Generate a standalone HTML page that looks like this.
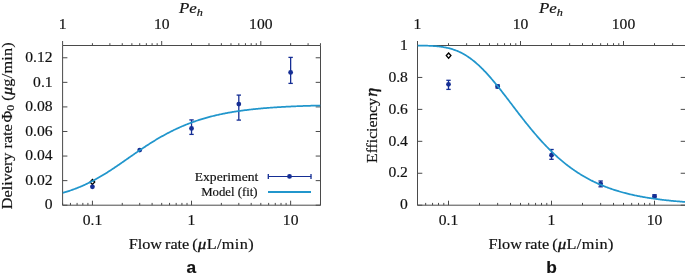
<!DOCTYPE html>
<html><head><meta charset="utf-8"><style>
html,body{margin:0;padding:0;background:#fff;width:685px;height:273px;overflow:hidden}
svg{display:block;will-change:transform}
text{font-family:"Liberation Serif",serif;fill:#111;stroke:#111;stroke-width:0.18px}
.m{stroke-width:0.4px}
.lab{font-family:"Liberation Sans",sans-serif;font-weight:bold}
</style></head><body>
<svg width="685" height="273" viewBox="0 0 685 273">
<defs>
<clipPath id="clipL"><rect x="62.6" y="44.0" width="257.9" height="161.2"/></clipPath>
<clipPath id="clipR"><rect x="417.5" y="44.0" width="268.0" height="161.2"/></clipPath>
</defs>
<rect width="685" height="273" fill="#fff"/>
<path d="M62.60,45.50 H320.50 V205.20 H62.60 Z" fill="none" stroke="#4a4a4a" stroke-width="1"/>
<line x1="62.60" y1="205.20" x2="62.60" y2="202.90" stroke="#4a4a4a" stroke-width="1.0" />
<line x1="70.45" y1="205.20" x2="70.45" y2="202.90" stroke="#4a4a4a" stroke-width="1.0" />
<line x1="77.08" y1="205.20" x2="77.08" y2="202.90" stroke="#4a4a4a" stroke-width="1.0" />
<line x1="82.83" y1="205.20" x2="82.83" y2="202.90" stroke="#4a4a4a" stroke-width="1.0" />
<line x1="87.90" y1="205.20" x2="87.90" y2="202.90" stroke="#4a4a4a" stroke-width="1.0" />
<line x1="92.43" y1="205.20" x2="92.43" y2="200.70" stroke="#4a4a4a" stroke-width="1.0" />
<line x1="122.26" y1="205.20" x2="122.26" y2="202.90" stroke="#4a4a4a" stroke-width="1.0" />
<line x1="139.71" y1="205.20" x2="139.71" y2="202.90" stroke="#4a4a4a" stroke-width="1.0" />
<line x1="152.10" y1="205.20" x2="152.10" y2="202.90" stroke="#4a4a4a" stroke-width="1.0" />
<line x1="161.70" y1="205.20" x2="161.70" y2="202.90" stroke="#4a4a4a" stroke-width="1.0" />
<line x1="169.55" y1="205.20" x2="169.55" y2="202.90" stroke="#4a4a4a" stroke-width="1.0" />
<line x1="176.18" y1="205.20" x2="176.18" y2="202.90" stroke="#4a4a4a" stroke-width="1.0" />
<line x1="181.93" y1="205.20" x2="181.93" y2="202.90" stroke="#4a4a4a" stroke-width="1.0" />
<line x1="187.00" y1="205.20" x2="187.00" y2="202.90" stroke="#4a4a4a" stroke-width="1.0" />
<line x1="191.53" y1="205.20" x2="191.53" y2="200.70" stroke="#4a4a4a" stroke-width="1.0" />
<line x1="221.36" y1="205.20" x2="221.36" y2="202.90" stroke="#4a4a4a" stroke-width="1.0" />
<line x1="238.81" y1="205.20" x2="238.81" y2="202.90" stroke="#4a4a4a" stroke-width="1.0" />
<line x1="251.20" y1="205.20" x2="251.20" y2="202.90" stroke="#4a4a4a" stroke-width="1.0" />
<line x1="260.80" y1="205.20" x2="260.80" y2="202.90" stroke="#4a4a4a" stroke-width="1.0" />
<line x1="268.65" y1="205.20" x2="268.65" y2="202.90" stroke="#4a4a4a" stroke-width="1.0" />
<line x1="275.28" y1="205.20" x2="275.28" y2="202.90" stroke="#4a4a4a" stroke-width="1.0" />
<line x1="281.03" y1="205.20" x2="281.03" y2="202.90" stroke="#4a4a4a" stroke-width="1.0" />
<line x1="286.10" y1="205.20" x2="286.10" y2="202.90" stroke="#4a4a4a" stroke-width="1.0" />
<line x1="290.63" y1="205.20" x2="290.63" y2="200.70" stroke="#4a4a4a" stroke-width="1.0" />
<line x1="320.46" y1="205.20" x2="320.46" y2="202.90" stroke="#4a4a4a" stroke-width="1.0" />
<line x1="62.60" y1="45.50" x2="62.60" y2="41.00" stroke="#4a4a4a" stroke-width="1.0" />
<line x1="92.43" y1="45.50" x2="92.43" y2="43.20" stroke="#4a4a4a" stroke-width="1.0" />
<line x1="109.88" y1="45.50" x2="109.88" y2="43.20" stroke="#4a4a4a" stroke-width="1.0" />
<line x1="122.26" y1="45.50" x2="122.26" y2="43.20" stroke="#4a4a4a" stroke-width="1.0" />
<line x1="131.87" y1="45.50" x2="131.87" y2="43.20" stroke="#4a4a4a" stroke-width="1.0" />
<line x1="139.71" y1="45.50" x2="139.71" y2="43.20" stroke="#4a4a4a" stroke-width="1.0" />
<line x1="146.35" y1="45.50" x2="146.35" y2="43.20" stroke="#4a4a4a" stroke-width="1.0" />
<line x1="152.10" y1="45.50" x2="152.10" y2="43.20" stroke="#4a4a4a" stroke-width="1.0" />
<line x1="157.17" y1="45.50" x2="157.17" y2="43.20" stroke="#4a4a4a" stroke-width="1.0" />
<line x1="161.70" y1="45.50" x2="161.70" y2="41.00" stroke="#4a4a4a" stroke-width="1.0" />
<line x1="191.53" y1="45.50" x2="191.53" y2="43.20" stroke="#4a4a4a" stroke-width="1.0" />
<line x1="208.98" y1="45.50" x2="208.98" y2="43.20" stroke="#4a4a4a" stroke-width="1.0" />
<line x1="221.36" y1="45.50" x2="221.36" y2="43.20" stroke="#4a4a4a" stroke-width="1.0" />
<line x1="230.97" y1="45.50" x2="230.97" y2="43.20" stroke="#4a4a4a" stroke-width="1.0" />
<line x1="238.81" y1="45.50" x2="238.81" y2="43.20" stroke="#4a4a4a" stroke-width="1.0" />
<line x1="245.45" y1="45.50" x2="245.45" y2="43.20" stroke="#4a4a4a" stroke-width="1.0" />
<line x1="251.20" y1="45.50" x2="251.20" y2="43.20" stroke="#4a4a4a" stroke-width="1.0" />
<line x1="256.27" y1="45.50" x2="256.27" y2="43.20" stroke="#4a4a4a" stroke-width="1.0" />
<line x1="260.80" y1="45.50" x2="260.80" y2="41.00" stroke="#4a4a4a" stroke-width="1.0" />
<line x1="290.63" y1="45.50" x2="290.63" y2="43.20" stroke="#4a4a4a" stroke-width="1.0" />
<line x1="308.08" y1="45.50" x2="308.08" y2="43.20" stroke="#4a4a4a" stroke-width="1.0" />
<line x1="320.46" y1="45.50" x2="320.46" y2="43.20" stroke="#4a4a4a" stroke-width="1.0" />
<line x1="62.60" y1="205.20" x2="67.40" y2="205.20" stroke="#4a4a4a" stroke-width="1.0" />
<line x1="320.50" y1="205.20" x2="315.70" y2="205.20" stroke="#4a4a4a" stroke-width="1.0" />
<line x1="62.60" y1="180.63" x2="67.40" y2="180.63" stroke="#4a4a4a" stroke-width="1.0" />
<line x1="320.50" y1="180.63" x2="315.70" y2="180.63" stroke="#4a4a4a" stroke-width="1.0" />
<line x1="62.60" y1="156.06" x2="67.40" y2="156.06" stroke="#4a4a4a" stroke-width="1.0" />
<line x1="320.50" y1="156.06" x2="315.70" y2="156.06" stroke="#4a4a4a" stroke-width="1.0" />
<line x1="62.60" y1="131.49" x2="67.40" y2="131.49" stroke="#4a4a4a" stroke-width="1.0" />
<line x1="320.50" y1="131.49" x2="315.70" y2="131.49" stroke="#4a4a4a" stroke-width="1.0" />
<line x1="62.60" y1="106.92" x2="67.40" y2="106.92" stroke="#4a4a4a" stroke-width="1.0" />
<line x1="320.50" y1="106.92" x2="315.70" y2="106.92" stroke="#4a4a4a" stroke-width="1.0" />
<line x1="62.60" y1="82.35" x2="67.40" y2="82.35" stroke="#4a4a4a" stroke-width="1.0" />
<line x1="320.50" y1="82.35" x2="315.70" y2="82.35" stroke="#4a4a4a" stroke-width="1.0" />
<line x1="62.60" y1="57.78" x2="67.40" y2="57.78" stroke="#4a4a4a" stroke-width="1.0" />
<line x1="320.50" y1="57.78" x2="315.70" y2="57.78" stroke="#4a4a4a" stroke-width="1.0" />
<path d="M92.40,179.40 L94.70,182.00 L92.40,184.60 L90.10,182.00 Z" fill="none" stroke="#000" stroke-width="1.35"/>
<circle cx="92.43" cy="186.80" r="2.4" fill="#152e94"/>
<circle cx="139.71" cy="150.10" r="2.4" fill="#152e94"/>
<line x1="191.53" y1="119.90" x2="191.53" y2="134.40" stroke="#152e94" stroke-width="1.3" />
<line x1="189.33" y1="119.90" x2="193.73" y2="119.90" stroke="#152e94" stroke-width="1.3" />
<line x1="189.33" y1="134.40" x2="193.73" y2="134.40" stroke="#152e94" stroke-width="1.3" />
<circle cx="191.53" cy="128.40" r="2.4" fill="#152e94"/>
<line x1="238.81" y1="95.10" x2="238.81" y2="120.10" stroke="#152e94" stroke-width="1.3" />
<line x1="236.61" y1="95.10" x2="241.01" y2="95.10" stroke="#152e94" stroke-width="1.3" />
<line x1="236.61" y1="120.10" x2="241.01" y2="120.10" stroke="#152e94" stroke-width="1.3" />
<circle cx="238.81" cy="104.10" r="2.4" fill="#152e94"/>
<line x1="290.63" y1="57.40" x2="290.63" y2="83.40" stroke="#152e94" stroke-width="1.3" />
<line x1="288.43" y1="57.40" x2="292.83" y2="57.40" stroke="#152e94" stroke-width="1.3" />
<line x1="288.43" y1="83.40" x2="292.83" y2="83.40" stroke="#152e94" stroke-width="1.3" />
<circle cx="290.63" cy="72.40" r="2.4" fill="#152e94"/>
<path d="M62.60,192.92 L63.46,192.67 L64.32,192.42 L65.18,192.16 L66.04,191.90 L66.90,191.63 L67.76,191.36 L68.62,191.08 L69.48,190.80 L70.34,190.51 L71.20,190.22 L72.06,189.92 L72.91,189.61 L73.77,189.30 L74.63,188.99 L75.49,188.66 L76.35,188.33 L77.21,188.00 L78.07,187.66 L78.93,187.31 L79.79,186.96 L80.65,186.60 L81.51,186.23 L82.37,185.86 L83.23,185.48 L84.09,185.10 L84.95,184.71 L85.81,184.31 L86.67,183.91 L87.53,183.50 L88.39,183.08 L89.25,182.66 L90.11,182.23 L90.97,181.80 L91.82,181.35 L92.68,180.91 L93.54,180.45 L94.40,179.99 L95.26,179.53 L96.12,179.05 L96.98,178.57 L97.84,178.09 L98.70,177.60 L99.56,177.10 L100.42,176.60 L101.28,176.09 L102.14,175.58 L103.00,175.06 L103.86,174.54 L104.72,174.01 L105.58,173.48 L106.44,172.94 L107.30,172.40 L108.16,171.85 L109.02,171.30 L109.88,170.75 L110.73,170.19 L111.59,169.62 L112.45,169.06 L113.31,168.49 L114.17,167.91 L115.03,167.34 L115.89,166.76 L116.75,166.17 L117.61,165.59 L118.47,165.00 L119.33,164.41 L120.19,163.82 L121.05,163.23 L121.91,162.63 L122.77,162.04 L123.63,161.44 L124.49,160.84 L125.35,160.24 L126.21,159.64 L127.07,159.04 L127.93,158.44 L128.79,157.84 L129.64,157.24 L130.50,156.64 L131.36,156.04 L132.22,155.44 L133.08,154.85 L133.94,154.25 L134.80,153.65 L135.66,153.06 L136.52,152.47 L137.38,151.88 L138.24,151.29 L139.10,150.70 L139.96,150.12 L140.82,149.54 L141.68,148.96 L142.54,148.38 L143.40,147.81 L144.26,147.24 L145.12,146.67 L145.98,146.10 L146.84,145.54 L147.70,144.98 L148.55,144.43 L149.41,143.88 L150.27,143.33 L151.13,142.79 L151.99,142.25 L152.85,141.71 L153.71,141.18 L154.57,140.66 L155.43,140.13 L156.29,139.62 L157.15,139.10 L158.01,138.59 L158.87,138.09 L159.73,137.59 L160.59,137.09 L161.45,136.60 L162.31,136.12 L163.17,135.64 L164.03,135.16 L164.89,134.69 L165.75,134.22 L166.61,133.76 L167.46,133.30 L168.32,132.85 L169.18,132.41 L170.04,131.96 L170.90,131.53 L171.76,131.10 L172.62,130.67 L173.48,130.25 L174.34,129.83 L175.20,129.42 L176.06,129.02 L176.92,128.62 L177.78,128.22 L178.64,127.83 L179.50,127.44 L180.36,127.06 L181.22,126.69 L182.08,126.32 L182.94,125.95 L183.80,125.59 L184.66,125.23 L185.52,124.88 L186.37,124.54 L187.23,124.20 L188.09,123.86 L188.95,123.53 L189.81,123.20 L190.67,122.88 L191.53,122.56 L192.39,122.25 L193.25,121.94 L194.11,121.64 L194.97,121.34 L195.83,121.04 L196.69,120.75 L197.55,120.47 L198.41,120.18 L199.27,119.91 L200.13,119.63 L200.99,119.37 L201.85,119.10 L202.71,118.84 L203.57,118.58 L204.43,118.33 L205.28,118.08 L206.14,117.84 L207.00,117.60 L207.86,117.36 L208.72,117.13 L209.58,116.90 L210.44,116.68 L211.30,116.45 L212.16,116.24 L213.02,116.02 L213.88,115.81 L214.74,115.60 L215.60,115.40 L216.46,115.20 L217.32,115.00 L218.18,114.81 L219.04,114.62 L219.90,114.43 L220.76,114.25 L221.62,114.07 L222.48,113.89 L223.34,113.72 L224.19,113.54 L225.05,113.38 L225.91,113.21 L226.77,113.05 L227.63,112.89 L228.49,112.73 L229.35,112.58 L230.21,112.42 L231.07,112.27 L231.93,112.13 L232.79,111.98 L233.65,111.84 L234.51,111.70 L235.37,111.57 L236.23,111.43 L237.09,111.30 L237.95,111.17 L238.81,111.05 L239.67,110.92 L240.53,110.80 L241.39,110.68 L242.25,110.56 L243.10,110.45 L243.96,110.33 L244.82,110.22 L245.68,110.11 L246.54,110.01 L247.40,109.90 L248.26,109.80 L249.12,109.69 L249.98,109.59 L250.84,109.50 L251.70,109.40 L252.56,109.31 L253.42,109.21 L254.28,109.12 L255.14,109.03 L256.00,108.95 L256.86,108.86 L257.72,108.78 L258.58,108.69 L259.44,108.61 L260.30,108.53 L261.16,108.45 L262.01,108.38 L262.87,108.30 L263.73,108.23 L264.59,108.15 L265.45,108.08 L266.31,108.01 L267.17,107.95 L268.03,107.88 L268.89,107.81 L269.75,107.75 L270.61,107.68 L271.47,107.62 L272.33,107.56 L273.19,107.50 L274.05,107.44 L274.91,107.38 L275.77,107.33 L276.63,107.27 L277.49,107.22 L278.35,107.16 L279.21,107.11 L280.07,107.06 L280.92,107.01 L281.78,106.96 L282.64,106.91 L283.50,106.86 L284.36,106.82 L285.22,106.77 L286.08,106.73 L286.94,106.68 L287.80,106.64 L288.66,106.60 L289.52,106.56 L290.38,106.52 L291.24,106.48 L292.10,106.44 L292.96,106.40 L293.82,106.36 L294.68,106.32 L295.54,106.29 L296.40,106.25 L297.26,106.22 L298.12,106.18 L298.98,106.15 L299.84,106.12 L300.69,106.08 L301.55,106.05 L302.41,106.02 L303.27,105.99 L304.13,105.96 L304.99,105.93 L305.85,105.90 L306.71,105.87 L307.57,105.85 L308.43,105.82 L309.29,105.79 L310.15,105.77 L311.01,105.74 L311.87,105.72 L312.73,105.69 L313.59,105.67 L314.45,105.64 L315.31,105.62 L316.17,105.60 L317.03,105.58 L317.89,105.55 L318.75,105.53 L319.60,105.51 L320.46,105.49" fill="none" stroke="#2196cc" stroke-width="1.75" clip-path="url(#clipL)"/>
<path d="M417.50,45.50 H685.50 V205.20 H417.50 Z" fill="none" stroke="#4a4a4a" stroke-width="1"/>
<line x1="417.50" y1="205.20" x2="417.50" y2="202.90" stroke="#4a4a4a" stroke-width="1.0" />
<line x1="425.66" y1="205.20" x2="425.66" y2="202.90" stroke="#4a4a4a" stroke-width="1.0" />
<line x1="432.55" y1="205.20" x2="432.55" y2="202.90" stroke="#4a4a4a" stroke-width="1.0" />
<line x1="438.52" y1="205.20" x2="438.52" y2="202.90" stroke="#4a4a4a" stroke-width="1.0" />
<line x1="443.79" y1="205.20" x2="443.79" y2="202.90" stroke="#4a4a4a" stroke-width="1.0" />
<line x1="448.51" y1="205.20" x2="448.51" y2="200.70" stroke="#4a4a4a" stroke-width="1.0" />
<line x1="479.51" y1="205.20" x2="479.51" y2="202.90" stroke="#4a4a4a" stroke-width="1.0" />
<line x1="497.65" y1="205.20" x2="497.65" y2="202.90" stroke="#4a4a4a" stroke-width="1.0" />
<line x1="510.52" y1="205.20" x2="510.52" y2="202.90" stroke="#4a4a4a" stroke-width="1.0" />
<line x1="520.50" y1="205.20" x2="520.50" y2="202.90" stroke="#4a4a4a" stroke-width="1.0" />
<line x1="528.66" y1="205.20" x2="528.66" y2="202.90" stroke="#4a4a4a" stroke-width="1.0" />
<line x1="535.55" y1="205.20" x2="535.55" y2="202.90" stroke="#4a4a4a" stroke-width="1.0" />
<line x1="541.52" y1="205.20" x2="541.52" y2="202.90" stroke="#4a4a4a" stroke-width="1.0" />
<line x1="546.79" y1="205.20" x2="546.79" y2="202.90" stroke="#4a4a4a" stroke-width="1.0" />
<line x1="551.51" y1="205.20" x2="551.51" y2="200.70" stroke="#4a4a4a" stroke-width="1.0" />
<line x1="582.51" y1="205.20" x2="582.51" y2="202.90" stroke="#4a4a4a" stroke-width="1.0" />
<line x1="600.65" y1="205.20" x2="600.65" y2="202.90" stroke="#4a4a4a" stroke-width="1.0" />
<line x1="613.52" y1="205.20" x2="613.52" y2="202.90" stroke="#4a4a4a" stroke-width="1.0" />
<line x1="623.50" y1="205.20" x2="623.50" y2="202.90" stroke="#4a4a4a" stroke-width="1.0" />
<line x1="631.66" y1="205.20" x2="631.66" y2="202.90" stroke="#4a4a4a" stroke-width="1.0" />
<line x1="638.55" y1="205.20" x2="638.55" y2="202.90" stroke="#4a4a4a" stroke-width="1.0" />
<line x1="644.52" y1="205.20" x2="644.52" y2="202.90" stroke="#4a4a4a" stroke-width="1.0" />
<line x1="649.79" y1="205.20" x2="649.79" y2="202.90" stroke="#4a4a4a" stroke-width="1.0" />
<line x1="654.51" y1="205.20" x2="654.51" y2="200.70" stroke="#4a4a4a" stroke-width="1.0" />
<line x1="685.51" y1="205.20" x2="685.51" y2="202.90" stroke="#4a4a4a" stroke-width="1.0" />
<line x1="417.50" y1="45.50" x2="417.50" y2="41.00" stroke="#4a4a4a" stroke-width="1.0" />
<line x1="448.51" y1="45.50" x2="448.51" y2="43.20" stroke="#4a4a4a" stroke-width="1.0" />
<line x1="466.64" y1="45.50" x2="466.64" y2="43.20" stroke="#4a4a4a" stroke-width="1.0" />
<line x1="479.51" y1="45.50" x2="479.51" y2="43.20" stroke="#4a4a4a" stroke-width="1.0" />
<line x1="489.49" y1="45.50" x2="489.49" y2="43.20" stroke="#4a4a4a" stroke-width="1.0" />
<line x1="497.65" y1="45.50" x2="497.65" y2="43.20" stroke="#4a4a4a" stroke-width="1.0" />
<line x1="504.55" y1="45.50" x2="504.55" y2="43.20" stroke="#4a4a4a" stroke-width="1.0" />
<line x1="510.52" y1="45.50" x2="510.52" y2="43.20" stroke="#4a4a4a" stroke-width="1.0" />
<line x1="515.79" y1="45.50" x2="515.79" y2="43.20" stroke="#4a4a4a" stroke-width="1.0" />
<line x1="520.50" y1="45.50" x2="520.50" y2="41.00" stroke="#4a4a4a" stroke-width="1.0" />
<line x1="551.51" y1="45.50" x2="551.51" y2="43.20" stroke="#4a4a4a" stroke-width="1.0" />
<line x1="569.64" y1="45.50" x2="569.64" y2="43.20" stroke="#4a4a4a" stroke-width="1.0" />
<line x1="582.51" y1="45.50" x2="582.51" y2="43.20" stroke="#4a4a4a" stroke-width="1.0" />
<line x1="592.49" y1="45.50" x2="592.49" y2="43.20" stroke="#4a4a4a" stroke-width="1.0" />
<line x1="600.65" y1="45.50" x2="600.65" y2="43.20" stroke="#4a4a4a" stroke-width="1.0" />
<line x1="607.55" y1="45.50" x2="607.55" y2="43.20" stroke="#4a4a4a" stroke-width="1.0" />
<line x1="613.52" y1="45.50" x2="613.52" y2="43.20" stroke="#4a4a4a" stroke-width="1.0" />
<line x1="618.79" y1="45.50" x2="618.79" y2="43.20" stroke="#4a4a4a" stroke-width="1.0" />
<line x1="623.50" y1="45.50" x2="623.50" y2="41.00" stroke="#4a4a4a" stroke-width="1.0" />
<line x1="654.51" y1="45.50" x2="654.51" y2="43.20" stroke="#4a4a4a" stroke-width="1.0" />
<line x1="672.64" y1="45.50" x2="672.64" y2="43.20" stroke="#4a4a4a" stroke-width="1.0" />
<line x1="685.51" y1="45.50" x2="685.51" y2="43.20" stroke="#4a4a4a" stroke-width="1.0" />
<line x1="417.50" y1="205.20" x2="422.30" y2="205.20" stroke="#4a4a4a" stroke-width="1.0" />
<line x1="685.50" y1="205.20" x2="680.70" y2="205.20" stroke="#4a4a4a" stroke-width="1.0" />
<line x1="417.50" y1="173.26" x2="422.30" y2="173.26" stroke="#4a4a4a" stroke-width="1.0" />
<line x1="685.50" y1="173.26" x2="680.70" y2="173.26" stroke="#4a4a4a" stroke-width="1.0" />
<line x1="417.50" y1="141.32" x2="422.30" y2="141.32" stroke="#4a4a4a" stroke-width="1.0" />
<line x1="685.50" y1="141.32" x2="680.70" y2="141.32" stroke="#4a4a4a" stroke-width="1.0" />
<line x1="417.50" y1="109.38" x2="422.30" y2="109.38" stroke="#4a4a4a" stroke-width="1.0" />
<line x1="685.50" y1="109.38" x2="680.70" y2="109.38" stroke="#4a4a4a" stroke-width="1.0" />
<line x1="417.50" y1="77.44" x2="422.30" y2="77.44" stroke="#4a4a4a" stroke-width="1.0" />
<line x1="685.50" y1="77.44" x2="680.70" y2="77.44" stroke="#4a4a4a" stroke-width="1.0" />
<line x1="417.50" y1="45.50" x2="422.30" y2="45.50" stroke="#4a4a4a" stroke-width="1.0" />
<line x1="685.50" y1="45.50" x2="680.70" y2="45.50" stroke="#4a4a4a" stroke-width="1.0" />
<path d="M448.60,53.00 L450.90,55.60 L448.60,58.20 L446.30,55.60 Z" fill="none" stroke="#000" stroke-width="1.35"/>
<line x1="448.51" y1="80.30" x2="448.51" y2="89.40" stroke="#152e94" stroke-width="1.3" />
<line x1="446.31" y1="80.30" x2="450.71" y2="80.30" stroke="#152e94" stroke-width="1.3" />
<line x1="446.31" y1="89.40" x2="450.71" y2="89.40" stroke="#152e94" stroke-width="1.3" />
<circle cx="448.51" cy="84.30" r="2.4" fill="#152e94"/>
<line x1="497.65" y1="85.00" x2="497.65" y2="88.00" stroke="#152e94" stroke-width="1.3" />
<line x1="495.45" y1="85.00" x2="499.85" y2="85.00" stroke="#152e94" stroke-width="1.3" />
<line x1="495.45" y1="88.00" x2="499.85" y2="88.00" stroke="#152e94" stroke-width="1.3" />
<circle cx="497.65" cy="86.50" r="2.4" fill="#152e94"/>
<line x1="551.51" y1="149.50" x2="551.51" y2="159.30" stroke="#152e94" stroke-width="1.3" />
<line x1="549.31" y1="149.50" x2="553.71" y2="149.50" stroke="#152e94" stroke-width="1.3" />
<line x1="549.31" y1="159.30" x2="553.71" y2="159.30" stroke="#152e94" stroke-width="1.3" />
<circle cx="551.51" cy="155.20" r="2.4" fill="#152e94"/>
<line x1="600.65" y1="181.00" x2="600.65" y2="186.80" stroke="#152e94" stroke-width="1.3" />
<line x1="598.45" y1="181.00" x2="602.85" y2="181.00" stroke="#152e94" stroke-width="1.3" />
<line x1="598.45" y1="186.80" x2="602.85" y2="186.80" stroke="#152e94" stroke-width="1.3" />
<circle cx="600.65" cy="183.80" r="2.4" fill="#152e94"/>
<line x1="654.51" y1="194.80" x2="654.51" y2="198.00" stroke="#152e94" stroke-width="1.3" />
<line x1="652.31" y1="194.80" x2="656.71" y2="194.80" stroke="#152e94" stroke-width="1.3" />
<line x1="652.31" y1="198.00" x2="656.71" y2="198.00" stroke="#152e94" stroke-width="1.3" />
<circle cx="654.51" cy="196.30" r="2.4" fill="#152e94"/>
<path d="M417.50,45.54 L418.39,45.55 L419.29,45.56 L420.18,45.57 L421.07,45.58 L421.97,45.60 L422.86,45.61 L423.75,45.63 L424.65,45.65 L425.54,45.67 L426.43,45.69 L427.33,45.72 L428.22,45.75 L429.11,45.79 L430.01,45.82 L430.90,45.87 L431.79,45.91 L432.69,45.96 L433.58,46.02 L434.47,46.08 L435.37,46.15 L436.26,46.23 L437.15,46.31 L438.05,46.40 L438.94,46.50 L439.83,46.60 L440.73,46.71 L441.62,46.84 L442.51,46.97 L443.41,47.11 L444.30,47.27 L445.19,47.43 L446.09,47.61 L446.98,47.80 L447.87,48.00 L448.77,48.21 L449.66,48.44 L450.55,48.68 L451.45,48.94 L452.34,49.21 L453.23,49.49 L454.13,49.80 L455.02,50.11 L455.92,50.45 L456.81,50.80 L457.70,51.17 L458.60,51.56 L459.49,51.96 L460.38,52.38 L461.28,52.83 L462.17,53.29 L463.06,53.77 L463.96,54.26 L464.85,54.78 L465.74,55.32 L466.64,55.88 L467.53,56.45 L468.42,57.05 L469.32,57.66 L470.21,58.30 L471.10,58.95 L472.00,59.63 L472.89,60.32 L473.78,61.04 L474.68,61.77 L475.57,62.52 L476.46,63.29 L477.36,64.08 L478.25,64.89 L479.14,65.71 L480.04,66.56 L480.93,67.42 L481.82,68.29 L482.72,69.19 L483.61,70.10 L484.50,71.03 L485.40,71.97 L486.29,72.93 L487.18,73.90 L488.08,74.89 L488.97,75.89 L489.86,76.90 L490.76,77.93 L491.65,78.96 L492.54,80.01 L493.44,81.08 L494.33,82.15 L495.22,83.23 L496.12,84.32 L497.01,85.42 L497.90,86.53 L498.80,87.65 L499.69,88.78 L500.58,89.91 L501.48,91.05 L502.37,92.19 L503.26,93.34 L504.16,94.49 L505.05,95.65 L505.94,96.81 L506.84,97.98 L507.73,99.15 L508.62,100.31 L509.52,101.49 L510.41,102.66 L511.30,103.83 L512.20,105.01 L513.09,106.18 L513.98,107.35 L514.88,108.52 L515.77,109.69 L516.66,110.86 L517.56,112.02 L518.45,113.19 L519.34,114.34 L520.24,115.50 L521.13,116.65 L522.02,117.80 L522.92,118.94 L523.81,120.08 L524.70,121.21 L525.60,122.33 L526.49,123.45 L527.38,124.57 L528.28,125.67 L529.17,126.77 L530.07,127.86 L530.96,128.95 L531.85,130.03 L532.75,131.10 L533.64,132.16 L534.53,133.21 L535.43,134.26 L536.32,135.30 L537.21,136.32 L538.11,137.34 L539.00,138.35 L539.89,139.36 L540.79,140.35 L541.68,141.33 L542.57,142.30 L543.47,143.26 L544.36,144.22 L545.25,145.16 L546.15,146.09 L547.04,147.02 L547.93,147.93 L548.83,148.84 L549.72,149.73 L550.61,150.61 L551.51,151.48 L552.40,152.35 L553.29,153.20 L554.19,154.04 L555.08,154.87 L555.97,155.70 L556.87,156.51 L557.76,157.31 L558.65,158.10 L559.55,158.88 L560.44,159.65 L561.33,160.41 L562.23,161.16 L563.12,161.90 L564.01,162.63 L564.91,163.35 L565.80,164.06 L566.69,164.76 L567.59,165.45 L568.48,166.13 L569.37,166.81 L570.27,167.47 L571.16,168.12 L572.05,168.76 L572.95,169.39 L573.84,170.02 L574.73,170.63 L575.63,171.24 L576.52,171.83 L577.41,172.42 L578.31,173.00 L579.20,173.57 L580.09,174.13 L580.99,174.68 L581.88,175.22 L582.77,175.76 L583.67,176.28 L584.56,176.80 L585.45,177.31 L586.35,177.81 L587.24,178.30 L588.13,178.79 L589.03,179.26 L589.92,179.73 L590.81,180.20 L591.71,180.65 L592.60,181.10 L593.49,181.54 L594.39,181.97 L595.28,182.39 L596.17,182.81 L597.07,183.22 L597.96,183.63 L598.85,184.02 L599.75,184.41 L600.64,184.80 L601.54,185.17 L602.43,185.54 L603.32,185.91 L604.22,186.27 L605.11,186.62 L606.00,186.96 L606.90,187.30 L607.79,187.64 L608.68,187.96 L609.58,188.29 L610.47,188.60 L611.36,188.91 L612.26,189.22 L613.15,189.52 L614.04,189.81 L614.94,190.10 L615.83,190.39 L616.72,190.67 L617.62,190.94 L618.51,191.21 L619.40,191.47 L620.30,191.73 L621.19,191.99 L622.08,192.24 L622.98,192.49 L623.87,192.73 L624.76,192.96 L625.66,193.20 L626.55,193.42 L627.44,193.65 L628.34,193.87 L629.23,194.08 L630.12,194.30 L631.02,194.51 L631.91,194.71 L632.80,194.91 L633.70,195.11 L634.59,195.30 L635.48,195.49 L636.38,195.68 L637.27,195.86 L638.16,196.04 L639.06,196.21 L639.95,196.39 L640.84,196.56 L641.74,196.72 L642.63,196.89 L643.52,197.05 L644.42,197.20 L645.31,197.36 L646.20,197.51 L647.10,197.66 L647.99,197.80 L648.88,197.95 L649.78,198.09 L650.67,198.22 L651.56,198.36 L652.46,198.49 L653.35,198.62 L654.24,198.75 L655.14,198.87 L656.03,199.00 L656.92,199.12 L657.82,199.23 L658.71,199.35 L659.60,199.46 L660.50,199.57 L661.39,199.68 L662.28,199.79 L663.18,199.90 L664.07,200.00 L664.96,200.10 L665.86,200.20 L666.75,200.30 L667.64,200.39 L668.54,200.49 L669.43,200.58 L670.32,200.67 L671.22,200.76 L672.11,200.84 L673.00,200.93 L673.90,201.01 L674.79,201.09 L675.69,201.17 L676.58,201.25 L677.47,201.33 L678.37,201.40 L679.26,201.48 L680.15,201.55 L681.05,201.62 L681.94,201.69 L682.83,201.76 L683.73,201.83 L684.62,201.89 L685.51,201.96" fill="none" stroke="#2196cc" stroke-width="1.75" clip-path="url(#clipR)"/>
<text transform="translate(52.60,209.40) scale(1.07,1)" text-anchor="end" font-size="14.6" >0</text>
<text transform="translate(52.60,184.83) scale(1.07,1)" text-anchor="end" font-size="14.6" >0.02</text>
<text transform="translate(52.60,160.26) scale(1.07,1)" text-anchor="end" font-size="14.6" >0.04</text>
<text transform="translate(52.60,135.69) scale(1.07,1)" text-anchor="end" font-size="14.6" >0.06</text>
<text transform="translate(52.60,111.12) scale(1.07,1)" text-anchor="end" font-size="14.6" >0.08</text>
<text transform="translate(52.60,86.55) scale(1.07,1)" text-anchor="end" font-size="14.6" >0.1</text>
<text transform="translate(52.60,61.98) scale(1.07,1)" text-anchor="end" font-size="14.6" >0.12</text>
<text transform="translate(407.90,209.40) scale(1.07,1)" text-anchor="end" font-size="14.6" >0</text>
<text transform="translate(407.90,177.46) scale(1.07,1)" text-anchor="end" font-size="14.6" >0.2</text>
<text transform="translate(407.90,145.52) scale(1.07,1)" text-anchor="end" font-size="14.6" >0.4</text>
<text transform="translate(407.90,113.58) scale(1.07,1)" text-anchor="end" font-size="14.6" >0.6</text>
<text transform="translate(407.90,81.64) scale(1.07,1)" text-anchor="end" font-size="14.6" >0.8</text>
<text transform="translate(407.90,49.70) scale(1.07,1)" text-anchor="end" font-size="14.6" >1</text>
<text transform="translate(92.43,224.90) scale(1.07,1)" text-anchor="middle" font-size="14.6" >0.1</text>
<text transform="translate(191.53,224.90) scale(1.07,1)" text-anchor="middle" font-size="14.6" >1</text>
<text transform="translate(290.63,224.90) scale(1.07,1)" text-anchor="middle" font-size="14.6" >10</text>
<text transform="translate(62.60,28.80) scale(1.07,1)" text-anchor="middle" font-size="14.6" >1</text>
<text transform="translate(161.70,28.80) scale(1.07,1)" text-anchor="middle" font-size="14.6" >10</text>
<text transform="translate(260.80,28.80) scale(1.07,1)" text-anchor="middle" font-size="14.6" >100</text>
<text transform="translate(448.51,224.90) scale(1.07,1)" text-anchor="middle" font-size="14.6" >0.1</text>
<text transform="translate(551.51,224.90) scale(1.07,1)" text-anchor="middle" font-size="14.6" >1</text>
<text transform="translate(654.51,224.90) scale(1.07,1)" text-anchor="middle" font-size="14.6" >10</text>
<text transform="translate(417.50,28.80) scale(1.07,1)" text-anchor="middle" font-size="14.6" >1</text>
<text transform="translate(520.50,28.80) scale(1.07,1)" text-anchor="middle" font-size="14.6" >10</text>
<text transform="translate(623.50,28.80) scale(1.07,1)" text-anchor="middle" font-size="14.6" >100</text>
<text transform="translate(190.90,13.3) scale(1.16,1)" text-anchor="middle" font-size="14.6" font-style="italic">Pe<tspan font-size="10.5" dy="2.6">h</tspan></text>
<text transform="translate(550.90,13.3) scale(1.16,1)" text-anchor="middle" font-size="14.6" font-style="italic">Pe<tspan font-size="10.5" dy="2.6">h</tspan></text>
<text transform="translate(191.30,248.6) scale(1.114,1)" text-anchor="middle" font-size="14.6">Flow<tspan dx="-1.0"> rate</tspan><tspan dx="-1.3" letter-spacing="0.33"> (<tspan font-style="italic" class="m">μ</tspan>L/min)</tspan></text>
<text transform="translate(551.20,248.6) scale(1.114,1)" text-anchor="middle" font-size="14.6">Flow<tspan dx="-1.0"> rate</tspan><tspan dx="-1.3" letter-spacing="0.33"> (<tspan font-style="italic" class="m">μ</tspan>L/min)</tspan></text>
<text transform="translate(11.7,125.6) rotate(-90) scale(1.11,1)" x="0" y="0" text-anchor="middle" font-size="14.6">Delivery rate<tspan dx="-2.2"> Φ</tspan><tspan font-size="10.5" dy="2.6">0</tspan><tspan dy="-2.6" letter-spacing="0.22"> (<tspan font-style="italic" class="m">μ</tspan>g/min)</tspan></text>
<text transform="translate(376.8,125.3) rotate(-90) scale(1.074,1)" x="0" y="0" text-anchor="middle" font-size="14.6">Efficiency<tspan dx="-2.4"> </tspan><tspan font-style="italic" class="m" font-size="16.8">η</tspan></text>
<text transform="translate(258.30,180.50) scale(1.11,1)" text-anchor="end" font-size="12.3" >Experiment</text>
<text transform="translate(257.60,196.00) scale(1.04,1)" text-anchor="end" font-size="12.3" >Model (fit)</text>
<line x1="268.00" y1="176.50" x2="311.20" y2="176.50" stroke="#152e94" stroke-width="1.2" />
<line x1="268.30" y1="174.10" x2="268.30" y2="178.90" stroke="#152e94" stroke-width="1.3" />
<line x1="311.00" y1="174.10" x2="311.00" y2="178.90" stroke="#152e94" stroke-width="1.3" />
<circle cx="289.5" cy="176.4" r="2.4" fill="#152e94"/>
<line x1="268.00" y1="192.00" x2="311.00" y2="192.00" stroke="#2196cc" stroke-width="1.8" />
<text x="191.4" y="273.3" text-anchor="middle" class="lab" font-size="17.3">a</text>
<text x="551.6" y="273.3" text-anchor="middle" class="lab" font-size="17.3">b</text>
</svg>
</body></html>
